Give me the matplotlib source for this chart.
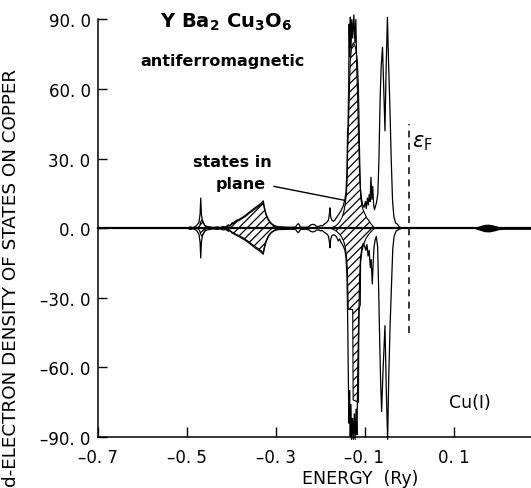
import matplotlib
matplotlib.use("Agg")
import matplotlib.pyplot as plt
import numpy as np

# ---------------- data ----------------
x_ticks = [-0.7, -0.5, -0.3, -0.1, 0.1]
x_tick_labels = ["–0. 7", "–0. 5", "–0. 3", "–0. 1", "0. 1"]
y_ticks = [90, 60, 30, 0, -30, -60, -90]
y_tick_labels = ["90. 0", "60. 0", "30. 0", "0. 0", "–30. 0", "–60. 0", "–90. 0"]

# total Cu(I) d-DOS, spin up (positive)
energy_total_up = [
    -0.700, -0.500, -0.490, -0.486, -0.478, -0.472, -0.4695, -0.4680, -0.4665, -0.464,
    -0.460, -0.455, -0.448, -0.440, -0.430, -0.424, -0.418, -0.412, -0.406, -0.402,
    -0.398, -0.393, -0.388, -0.382, -0.375, -0.368, -0.360, -0.352, -0.345, -0.338,
    -0.332, -0.3275, -0.325, -0.321, -0.316, -0.310, -0.303, -0.295, -0.280, -0.265,
    -0.255, -0.2515, -0.249, -0.2465, -0.244, -0.232, -0.226, -0.221, -0.2165, -0.212,
    -0.208, -0.203, -0.199, -0.195, -0.190, -0.185, -0.181, -0.179, -0.1775, -0.176,
    -0.1735, -0.170, -0.167, -0.163, -0.158, -0.153, -0.148, -0.144, -0.1415, -0.1395,
    -0.1380, -0.1370, -0.1355, -0.1345, -0.1333, -0.1318, -0.1303, -0.1285, -0.1265, -0.1240,
    -0.1215, -0.1195, -0.1175, -0.1155, -0.1135, -0.1115, -0.1095, -0.1070, -0.1040, -0.1010,
    -0.0980, -0.0960, -0.0935, -0.0915, -0.0895, -0.0875, -0.0855, -0.0835, -0.0815, -0.0795,
    -0.0775, -0.0755, -0.0730, -0.0700, -0.0675, -0.0650, -0.0625, -0.0595, -0.0570, -0.0540,
    -0.0515, -0.0485, -0.0460, -0.0430, -0.0400, -0.0370, -0.0340, -0.0300, -0.0260, -0.0220,
    -0.0160, 0.150, 0.160, 0.170, 0.180, 0.190, 0.200, 0.210, 0.300]
dos_total_up = [
    0, 0, 0.6, 0.2, 1.0, 2.5, 6, 13, 6, 3,
    1.5, 0.8, 0.6, 0.3, 0.6, 0.3, 0.8, 0.5, 1.5, 1.0,
    2.2, 2.6, 3.4, 3.8, 4.6, 5.5, 6.8, 8.0, 9.0, 10.0,
    10.8, 11.8, 9.0, 6.0, 3.8, 2.2, 1.2, 0.7, 0.5, 0.4,
    0.5, 1.5, 2.0, 1.5, 0.5, 0.4, 0.6, 1.4, 1.7, 1.5,
    0.8, 0.7, 1.2, 1.0, 1.8, 2.5, 3.5, 6.0, 8.8, 5.0,
    3.5, 3.0, 3.4, 4.6, 6.0, 7.5, 9.5, 12.5, 16, 24,
    42, 44, 62, 88, 74, 91, 78, 90, 82, 92,
    80, 90, 70, 58, 42, 28, 18, 13, 10, 9,
    11.5, 8.5, 13, 10, 14.5, 11.5, 22, 12.5, 18, 10,
    8, 9.5, 11, 15, 30, 55, 70, 78, 62, 42,
    68, 91, 72, 53, 30, 12, 5, 2.2, 1.8, 0.6,
    0, 0, 0.6, 1.2, 1.3, 0.9, 0.4, 0, 0]

# total Cu(I) d-DOS, spin down (negative)
energy_total_dn = [
    -0.700, -0.500, -0.490, -0.486, -0.478, -0.472, -0.4695, -0.4680, -0.4665, -0.464,
    -0.460, -0.455, -0.448, -0.440, -0.430, -0.424, -0.418, -0.412, -0.406, -0.402,
    -0.398, -0.393, -0.388, -0.382, -0.375, -0.368, -0.360, -0.352, -0.345, -0.338,
    -0.332, -0.3275, -0.325, -0.321, -0.316, -0.310, -0.303, -0.295, -0.280, -0.265,
    -0.255, -0.2515, -0.249, -0.2465, -0.244, -0.232, -0.226, -0.221, -0.2165, -0.212,
    -0.208, -0.203, -0.199, -0.195, -0.190, -0.185, -0.181, -0.179, -0.1775, -0.176,
    -0.1735, -0.170, -0.167, -0.163, -0.159, -0.156, -0.153, -0.148, -0.144, -0.1415,
    -0.1395, -0.1385, -0.1375, -0.1365, -0.1350, -0.1335, -0.1320, -0.1305, -0.1290, -0.1270,
    -0.1250, -0.1230, -0.1210, -0.1190, -0.1170, -0.1150, -0.1130, -0.1110, -0.1090, -0.1060,
    -0.1030, -0.1000, -0.0970, -0.0945, -0.0920, -0.0895, -0.0870, -0.0850, -0.0825, -0.0805,
    -0.0785, -0.0760, -0.0735, -0.0705, -0.0680, -0.0655, -0.0635, -0.0615, -0.0585, -0.0540,
    -0.0510, -0.0480, -0.0455, -0.0425, -0.0395, -0.0365, -0.0335, -0.0290, -0.0220, -0.0160,
    0.150, 0.160, 0.170, 0.180, 0.190, 0.200, 0.210, 0.300]
dos_total_dn = [
    0, 0, -0.5, -0.2, -0.8, -2.5, -6, -12.8, -6, -3,
    -1.5, -0.8, -0.5, -0.3, -0.5, -0.3, -0.7, -0.5, -1.3, -1.0,
    -2.0, -2.5, -3.0, -3.6, -4.4, -5.2, -6.3, -7.5, -8.6, -9.5,
    -10.4, -11.2, -8.6, -5.8, -3.6, -2.0, -1.1, -0.6, -0.5, -0.4,
    -0.5, -1.4, -1.9, -1.4, -0.5, -0.4, -0.6, -1.3, -1.6, -1.4,
    -0.8, -0.7, -1.1, -1.0, -1.8, -2.4, -3.4, -5.8, -8.4, -4.8,
    -3.2, -2.8, -3.0, -3.6, -5.5, -4.6, -6.0, -7.5, -9.5, -13,
    -20, -30, -44, -62, -84, -70, -90, -76, -91, -82,
    -91, -80, -91, -78, -89, -60, -40, -22, -13, -8.5,
    -6.5, -7.5, -9.5, -7, -12, -9.5, -17, -13.5, -24, -15,
    -8, -5, -3.5, -8, -28, -52, -68, -79, -62, -42,
    -70, -91, -64, -42, -26, -9, -3.5, -1.2, -0.4, 0,
    0, -0.6, -1.2, -1.3, -0.9, -0.4, 0, 0]

# d-states in the plane (hatched), spin up
energy_plane_up = [
    -0.700, -0.476, -0.4705, -0.4680, -0.4655, -0.4625, -0.4590, -0.4550, -0.420, -0.412,
    -0.404, -0.398, -0.393, -0.388, -0.382, -0.375, -0.368, -0.360, -0.352, -0.345,
    -0.338, -0.332, -0.3275, -0.325, -0.321, -0.316, -0.310, -0.303, -0.295, -0.176,
    -0.170, -0.165, -0.160, -0.155, -0.150, -0.146, -0.143, -0.1405, -0.1390, -0.1378,
    -0.1365, -0.1345, -0.1320, -0.1290, -0.1250, -0.1200, -0.1160, -0.1135, -0.1115, -0.1100,
    -0.1085, -0.1050, -0.1000, -0.0950, -0.0900, -0.0850, -0.0800, -0.0770, 0.300]
dos_plane_up = [
    0, 0, 1.0, 2.8, 3.6, 2.8, 1.2, 0, 0, 0.4,
    1.0, 1.8, 2.2, 3.0, 3.3, 4.2, 5.0, 6.3, 7.4, 8.4,
    9.4, 10.2, 11.0, 8.4, 5.5, 3.4, 1.9, 0.9, 0, 0,
    0.5, 1.0, 1.8, 3.0, 4.8, 7.5, 11, 15, 22, 34,
    41, 56, 72, 78, 80, 78, 72, 60, 38, 22,
    13, 9, 6.5, 4.5, 3.2, 1.8, 0.6, 0, 0]

# d-states in the plane (hatched), spin down
energy_plane_dn = [
    -0.700, -0.476, -0.4705, -0.4680, -0.4655, -0.4625, -0.4590, -0.4550, -0.420, -0.412,
    -0.404, -0.398, -0.393, -0.388, -0.382, -0.375, -0.368, -0.360, -0.352, -0.345,
    -0.338, -0.332, -0.3275, -0.325, -0.321, -0.316, -0.310, -0.303, -0.295, -0.176,
    -0.170, -0.165, -0.160, -0.155, -0.150, -0.146, -0.143, -0.1405, -0.1385, -0.1372,
    -0.1365, -0.1265, -0.1255, -0.1135, -0.1125, -0.1095, -0.1088, -0.1060, -0.1020, -0.0970,
    -0.0920, -0.0870, -0.0820, -0.0770, 0.300]
dos_plane_dn = [
    0, 0, -1.0, -2.6, -3.4, -2.6, -1.1, 0, 0, -0.4,
    -0.9, -1.6, -2.1, -2.7, -3.1, -3.9, -4.7, -5.8, -7.0, -8.0,
    -8.9, -9.7, -10.5, -8.0, -5.3, -3.2, -1.8, -0.9, 0, 0,
    -0.5, -1.0, -1.8, -2.8, -4.2, -6.0, -8.5, -12, -18, -30,
    -35, -35, -74, -75, -35, -33, -15, -10, -7, -4.5,
    -3, -1.8, -0.8, 0, 0]

fermi_energy = 0.0
fermi_span = [-45, 45]

# ---------------- figure ----------------
W, H = 531, 489
fig = plt.figure(figsize=(W / 100, H / 100), dpi=100)
plt.rcParams['hatch.linewidth'] = 0.9
font = "DejaVu Sans"

left_px, right_px = 97.5, 542.5
top_px, bot_px = 20.5, 438.0
ax = fig.add_axes([left_px / W, 1 - bot_px / H, (right_px - left_px) / W, (bot_px - top_px) / H])
ax.set_xlim(-0.7, 0.3)
ax.set_ylim(-90, 90)

# hatched in-plane states
ax.fill_between(energy_plane_up, 0, dos_plane_up, facecolor="white", edgecolor="black",
                hatch="////", linewidth=0.8, zorder=2)
ax.fill_between(energy_plane_dn, 0, dos_plane_dn, facecolor="white", edgecolor="black",
                hatch="////", linewidth=0.8, zorder=2)

# small black lens near 0.18 Ry
e_tu = np.array(energy_total_up)
mask = e_tu > 0.1
ax.fill_between(e_tu[mask], np.array(dos_total_dn)[np.array(energy_total_dn) > 0.1],
                np.array(dos_total_up)[mask], color="black", zorder=3)

# total curves
ax.plot(energy_total_up, dos_total_up, color="black", lw=0.9, zorder=4, clip_on=False)
ax.plot(energy_total_dn, dos_total_dn, color="black", lw=0.9, zorder=4, clip_on=False)
ax.axhline(0, color="black", lw=1.6, zorder=5)

# Fermi level
ax.plot([fermi_energy, fermi_energy], fermi_span, color="black", lw=1.1,
        linestyle=(0, (4.5, 3.5)), zorder=4)

# axes style
for s in ["top", "right"]:
    ax.spines[s].set_visible(False)
for s in ["left", "bottom"]:
    ax.spines[s].set_linewidth(1.1)
ax.set_xticks(x_ticks)
ax.set_xticklabels(x_tick_labels, fontsize=12, family=font)
ax.set_yticks(y_ticks)
ax.set_yticklabels(y_tick_labels, fontsize=12, family=font)
ax.tick_params(axis="x", direction="in", length=7.5, width=1.0, pad=8)
ax.tick_params(axis="y", direction="in", length=6.5, width=1.0, pad=5)

def fx(px):
    return px / W

def fy(py):
    return 1 - py / H

fig.text(fx(11.5), fy(278), "d-ELECTRON DENSITY OF STATES ON COPPER", rotation=90,
         ha="center", va="center", fontsize=13.2, family=font)
fig.text(fx(360), fy(479), "ENERGY  (Ry)", ha="center", va="center", fontsize=12.5, family=font)

fig.text(fx(160), fy(28), r"Y Ba$_\mathbf{2}$ Cu$_\mathbf{3}$O$_\mathbf{6}$", ha="left",
         va="baseline", fontsize=14, fontweight="bold", family=font)
fig.text(fx(223), fy(66), "antiferromagnetic", ha="center", va="baseline",
         fontsize=11.5, fontweight="bold", family=font)
fig.text(fx(232), fy(167), "states in", ha="center", va="baseline",
         fontsize=11.5, fontweight="bold", family=font)
fig.text(fx(241), fy(189), "plane", ha="center", va="baseline",
         fontsize=11.5, fontweight="bold", family=font)
ax.annotate("", xy=(-0.1382, 11.8), xytext=(-0.310, 18.3),
            arrowprops=dict(arrowstyle="-", color="black", lw=1.0))
fig.text(fx(412), fy(143), r"$\epsilon_{\rm F}$", ha="left", va="center", fontsize=15)
fig.text(fx(470), fy(403), "Cu(I)", ha="center", va="center", fontsize=12.5, family=font)

fig.savefig("out.png", dpi=100)
